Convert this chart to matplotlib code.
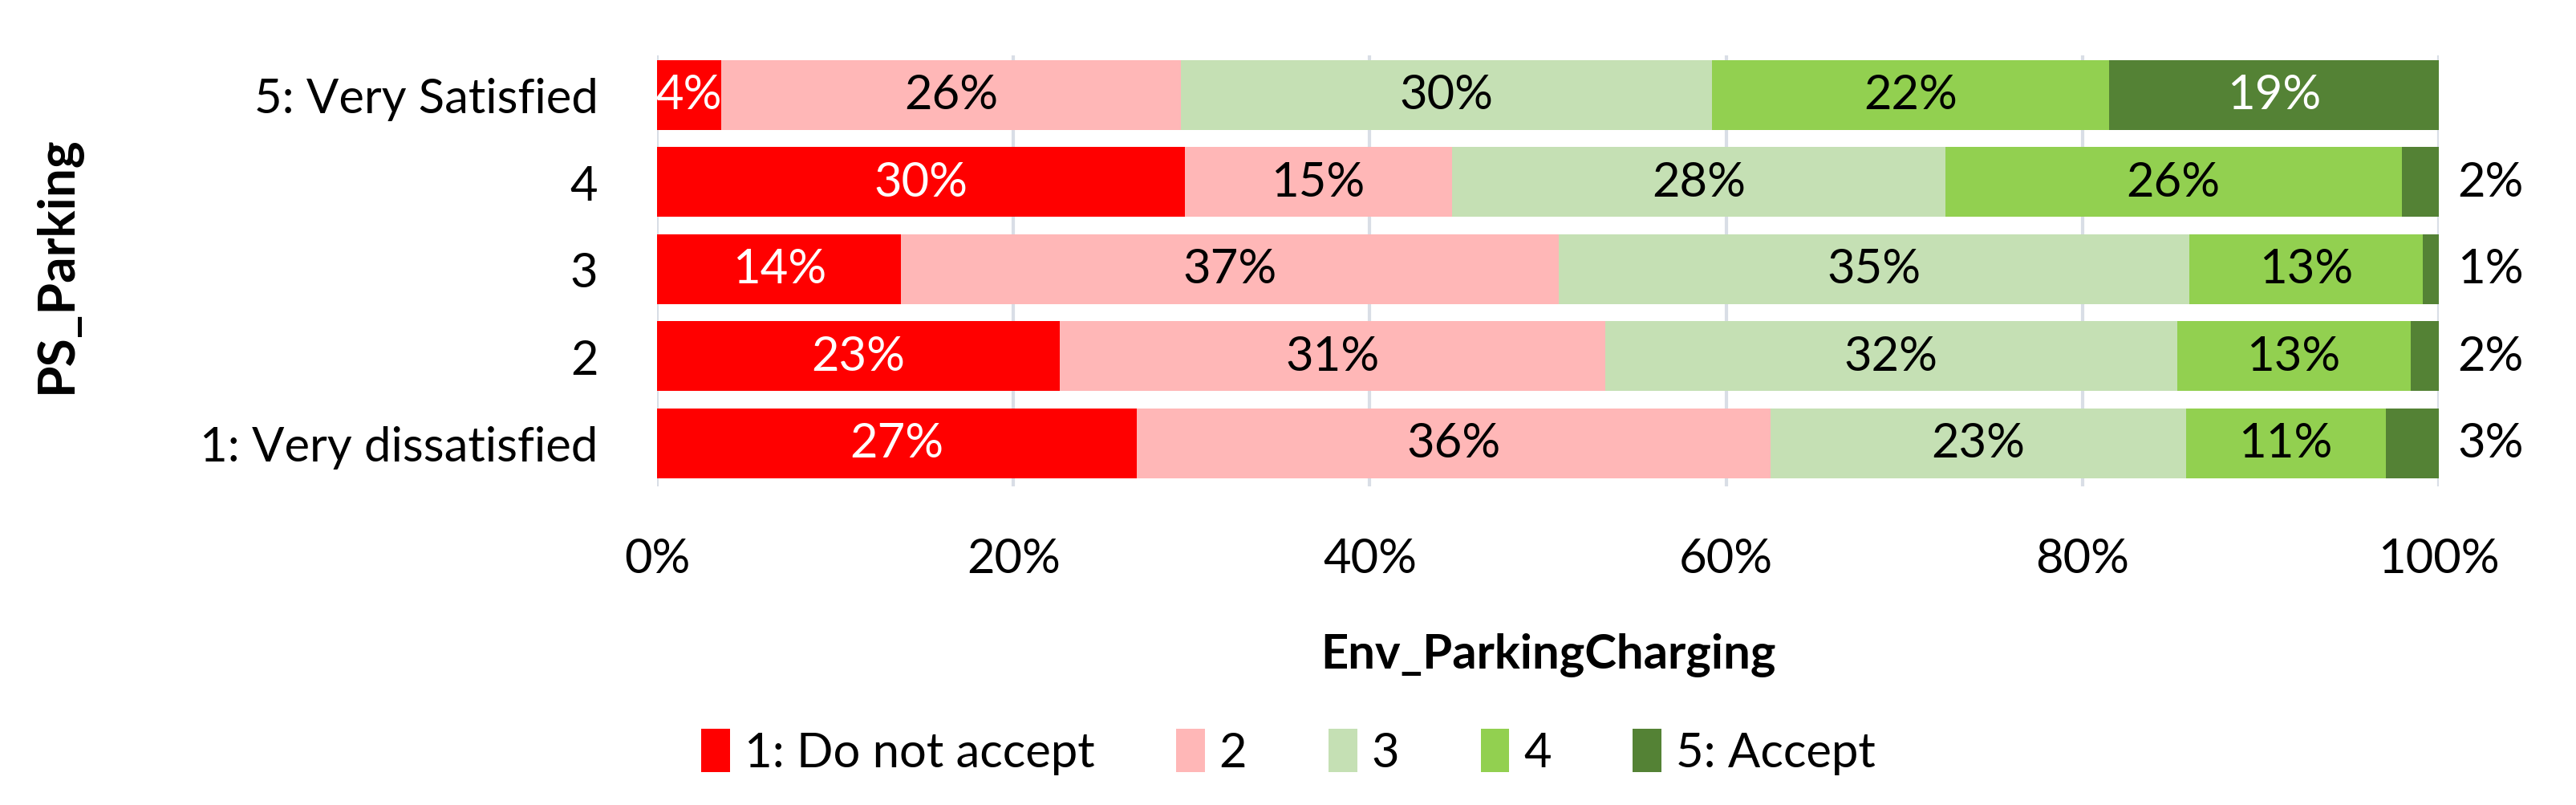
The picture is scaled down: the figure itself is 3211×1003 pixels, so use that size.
import numpy as np
import matplotlib.pyplot as plt

# Datos: porcentaje por fila (de abajo hacia arriba)
rows = ['1: Very dissatisfied', '2', '3', '4', '5: Very Satisfied']
cats = ['1: Do not accept', '2', '3', '4', '5: Accept']
accept1 = [26.9, 22.6, 13.7, 29.6, 3.6]
accept2 = [35.6, 30.6, 36.9, 15.0, 25.8]
accept3 = [23.3, 32.1, 35.4, 27.7, 29.8]
accept4 = [11.2, 13.1, 13.1, 25.6, 22.3]
accept5 = [3.0, 1.6, 0.9, 2.1, 18.5]
labels1 = ['27%', '23%', '14%', '30%', '4%']
labels2 = ['36%', '31%', '37%', '15%', '26%']
labels3 = ['23%', '32%', '35%', '28%', '30%']
labels4 = ['11%', '13%', '13%', '26%', '22%']
labels5 = ['3%', '2%', '1%', '2%', '19%']

colors = ['#FF0000', '#FFB7B7', '#C5E0B4', '#92D050', '#548235']
txtcol = ['white', 'black', 'black', 'black', 'white']

plt.rcParams['font.family'] = ['Lato', 'DejaVu Sans']
fs = 43

fig = plt.figure(figsize=(32.12, 10.04), dpi=100)
ax = fig.add_axes([0.255, 0.395, 0.6915, 0.535])

series = [accept1, accept2, accept3, accept4, accept5]
labs = [labels1, labels2, labels3, labels4, labels5]
y = np.arange(len(rows))
left = np.zeros(len(rows))
for k in range(5):
    vals = np.array(series[k])
    ax.barh(y, vals, left=left, height=0.8, color=colors[k], label=cats[k], zorder=3)
    for i in range(len(rows)):
        if k == 4 and vals[i] < 5:
            ax.text(102.9, y[i], labs[k][i], ha='center', va='center',
                    fontsize=fs, color='black')
        else:
            ax.text(left[i] + vals[i] / 2, y[i], labs[k][i], ha='center', va='center',
                    fontsize=fs, color=txtcol[k], zorder=4)
    left = left + vals

ax.set_xlim(0, 100)
ax.set_ylim(-0.5, 4.45)
ax.set_xticks(np.arange(0, 101, 20))
ax.set_xticklabels([str(v) + '%' for v in range(0, 101, 20)], fontsize=fs)
ax.set_yticks(y)
ax.set_yticklabels(rows, fontsize=fs)
ax.tick_params(axis='y', length=0, pad=53)
ax.tick_params(axis='x', length=0, pad=45)
for s in ax.spines.values():
    s.set_visible(False)
ax.grid(axis='x', color='#D9DEE6', linewidth=3, zorder=0)
ax.set_axisbelow(True)

ax.set_xlabel('Env_ParkingCharging', fontsize=fs, fontweight='bold', labelpad=47)
fig.text(0.022, 0.672, 'PS_Parking', rotation=90, ha='center', va='center',
         fontsize=46, fontweight='bold')

fig.legend(loc='center', bbox_to_anchor=(0.5, 0.066), ncol=5, frameon=False,
           fontsize=fs, handlelength=0.6, handleheight=1.0, handletextpad=0.3,
           columnspacing=1.7)

plt.savefig('out.png', dpi=100)
